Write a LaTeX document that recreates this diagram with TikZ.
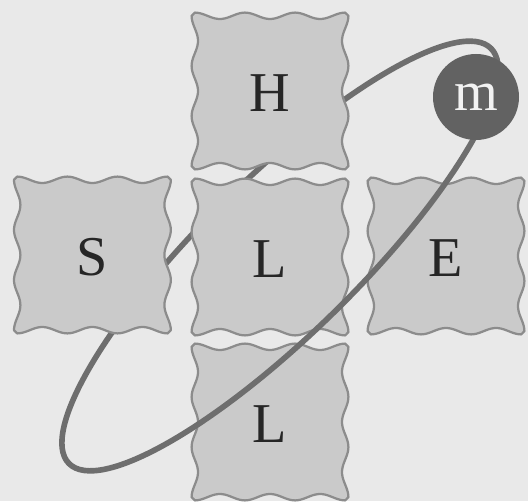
\documentclass[tikz,border=0pt]{standalone}
\usepackage{fontspec}
\setmainfont{Liberation Serif}
\usetikzlibrary{positioning}
\definecolor{bggray}{RGB}{233,233,233}
\definecolor{tilegray}{RGB}{202,202,202}
\definecolor{edgegray}{RGB}{140,140,140}
\definecolor{orbitgray}{RGB}{110,110,110}
\definecolor{massgray}{RGB}{98,98,98}

\newcommand{\tileh}{1.88}
\newcommand{\tilea}{0.08}
% wavy tile: name, x, y, letter
\newcommand{\wavytile}[4]{%
  \draw[tile] plot[domain=-1:1,samples=61,variable=\t] ({#2+\t*\tileh},{#3+\tileh+\tilea*cos(540*(\t+1))})
    -- plot[domain=-1:1,samples=61,variable=\t] ({#2+\tileh+\tilea*cos(540*(\t+1))},{#3-\t*\tileh})
    -- plot[domain=-1:1,samples=61,variable=\t] ({#2-\t*\tileh},{#3-\tileh-\tilea*cos(540*(\t+1))})
    -- plot[domain=-1:1,samples=61,variable=\t] ({#2-\tileh-\tilea*cos(540*(\t+1))},{#3+\t*\tileh}) -- cycle;
  \node[letter] (#1) at (#2,#3-0.06) {#4};}

\begin{document}
\begin{tikzpicture}[
    tile/.style={fill=tilegray, draw=edgegray, line width=1.6pt, line join=round},
    letter/.style={text=black!85, font=\fontsize{40}{42}\selectfont},
    orbit/.style={draw=orbitgray, line width=4pt, line cap=round},
    mass/.style={circle, fill=massgray, text=white!95!black, minimum size=2.15cm,
                 inner sep=0pt, font=\fontsize{40}{42}\selectfont}]
    \fill[bggray] (0,0) rectangle (13.2,12.525);
    \useasboundingbox (0,0) rectangle (13.2,12.525);
    % back half of the orbit
    \begin{scope}[shift={(7.0,6.125)}, rotate=44.5]
        \draw[orbit] (7.4,0) arc[start angle=0, end angle=180, x radius=7.4, y radius=1.95];
    \end{scope}
    % tiles
    \wavytile{H}{6.75}{10.25}{H}
    \wavytile{S}{2.31}{6.15}{S}
    \wavytile{L}{6.75}{6.1}{L}
    \wavytile{E}{11.15}{6.125}{E}
    \wavytile{Lb}{6.75}{1.975}{L}
    % front half of the orbit
    \begin{scope}[shift={(7.0,6.125)}, rotate=44.5]
        \draw[orbit] (-7.4,0) arc[start angle=180, end angle=360, x radius=7.4, y radius=1.95];
    \end{scope}
    \node[mass] (m) at (11.9,10.1) {m};
\end{tikzpicture}
\end{document}
